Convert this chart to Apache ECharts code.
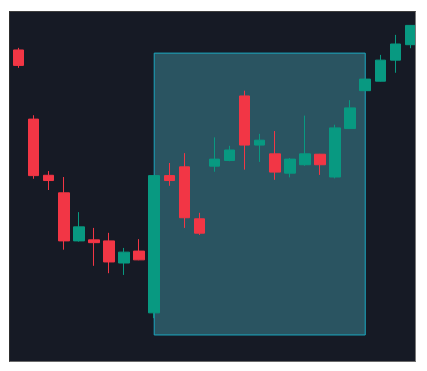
<!DOCTYPE html>
<html>
<head>
<meta charset="utf-8">
<script src="https://cdn.jsdelivr.net/npm/echarts@6/dist/echarts.min.js"></script>
<style>
  html, body { margin: 0; padding: 0; background: #ffffff; }
  #frame { position: absolute; left: 9px; top: 11px; width: 407px; height: 351px; background: #161a25; }
  #chart { position: absolute; left: 0; top: 0; width: 427px; height: 371px; }
  #edge {
    position: absolute; left: 9px; top: 11px; width: 407px; height: 351px; box-sizing: border-box;
    border-top: 1px solid #3e3e3e; border-left: 1px solid #2e2e2e;
    border-right: 1px solid #7a7a7a; border-bottom: 1px solid #6a6a6a; pointer-events: none;
  }
</style>
</head>
<body>
<div id="frame"></div>
<div id="chart"></div>
<div id="edge"></div>
<script>
// Trading sessions shown on the chart
const sessions = ['S01','S02','S03','S04','S05','S06','S07','S08','S09','S10','S11','S12','S13','S14',
                  'S15','S16','S17','S18','S19','S20','S21','S22','S23','S24','S25','S26','S27'];

// Price per session
const opens  = [88.9, 69.2, 53.2, 48.2, 34.5, 34.8, 34.5, 28.2, 31.6, 14.0, 53.1, 55.6, 40.8, 55.8,
                57.4, 75.8, 61.8, 59.3, 53.8, 56.2, 59.2, 52.7, 66.5, 77.3, 80.0, 86.0, 90.4];
const closes = [84.5, 53.1, 51.7, 34.5, 38.5, 34.0, 28.5, 31.3, 29.1, 53.1, 51.7, 41.1, 36.7, 57.8,
                60.4, 61.8, 63.2, 54.1, 57.8, 59.3, 56.2, 66.7, 72.4, 80.6, 86.0, 90.6, 95.9];
const lows   = [83.8, 52.2, 49.0, 32.0, 34.3, 27.4, 25.3, 24.8, 29.0, 12.5, 50.2, 38.2, 36.2, 54.2,
                57.2, 54.8, 57.0, 51.9, 52.6, 55.9, 53.3, 52.3, 66.4, 77.2, 79.9, 82.4, 89.4];
const highs  = [89.5, 70.3, 54.4, 52.7, 42.7, 38.2, 36.8, 32.5, 35.0, 53.2, 56.7, 59.5, 42.5, 64.0,
                61.6, 77.3, 65.0, 65.8, 58.1, 70.2, 59.3, 67.6, 74.6, 80.7, 87.5, 93.2, 96.0];

// Highlighted zone: first/last session and price bounds
const zoneSessions = ['S10', 'S24'];
const zonePrices = [88.0, 7.7];

const candles = sessions.map((_, i) => [opens[i], closes[i], lows[i], highs[i]]);

const chart = echarts.init(document.getElementById('chart'), null, { renderer: 'canvas' });
chart.setOption({
  animation: false,
  backgroundColor: 'transparent',
  grid: { left: 11, right: 9, top: 11, bottom: 9 },
  xAxis: {
    type: 'category', data: sessions, show: false, boundaryGap: true
  },
  yAxis: {
    type: 'value', min: 0, max: 100, show: false, splitLine: { show: false }
  },
  series: [{
    type: 'candlestick',
    data: candles,
    barWidth: 11,
    itemStyle: {
      color: '#089981', color0: '#f23645',
      borderColor: '#089981', borderColor0: '#f23645', borderWidth: 1
    },
    markArea: {
      silent: true,
      itemStyle: { color: '#2a5461', borderColor: '#1ba8c0', borderWidth: 1, opacity: 1 },
      data: [[
        { coord: [zoneSessions[0], zonePrices[0]] },
        { coord: [zoneSessions[1], zonePrices[1]] }
      ]]
    }
  }]
});
</script>
</body>
</html>
